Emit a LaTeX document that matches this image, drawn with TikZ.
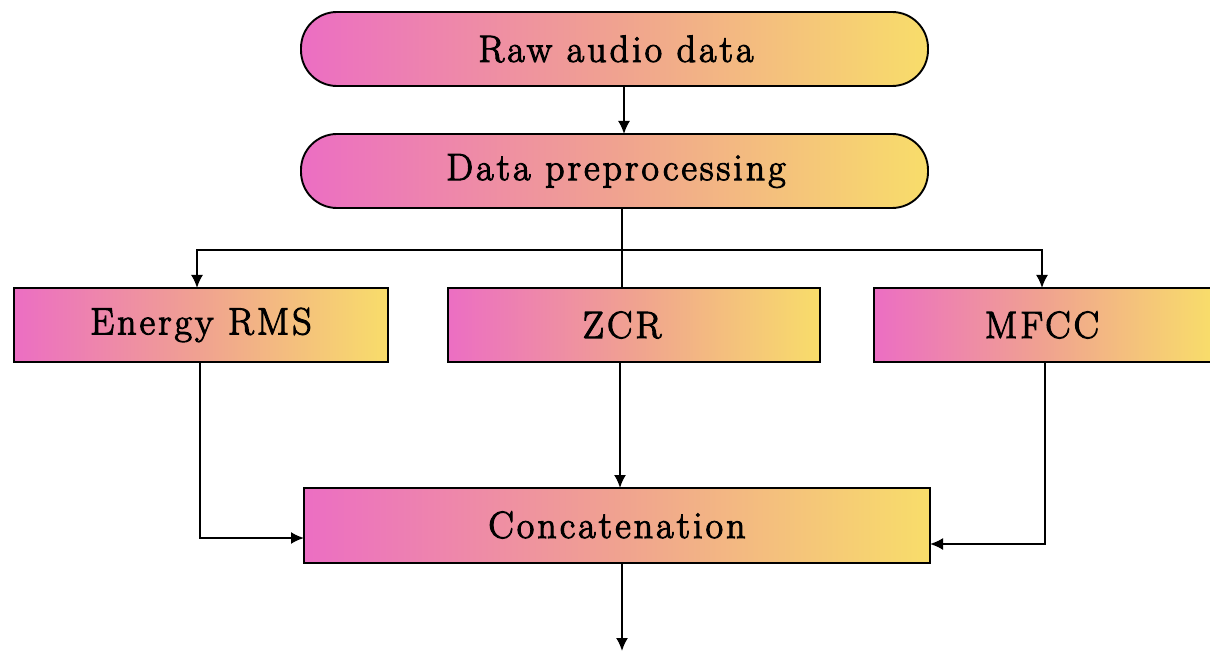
\documentclass[tikz,border=0pt]{standalone}
\usepackage{fontspec}
\setmainfont{Latin Modern Roman}[FakeBold=2.8,LetterSpace=8]
\usetikzlibrary{arrows.meta,calc}
\definecolor{gpink}{HTML}{EC6EC3}
\definecolor{gmid}{HTML}{F0A290}
\definecolor{gyellow}{HTML}{F8DD6A}
\tikzset{
  gradfill/.style={left color=gpink,right color=gyellow,middle color=gmid,
    draw=black,line width=1.9pt},
  stadium/.style={gradfill,rounded corners=36pt},
  flowbox/.style={gradfill},
  label text/.style={font=\fontsize{38}{44}\selectfont},
  link/.style={line width=1.9pt,draw=black},
  arr/.style={link,-{Latex[length=13pt,width=12pt]}},
}
\begin{document}
\begin{tikzpicture}[x=1pt,y=-1pt]
  \useasboundingbox (0,0) rectangle (1210,652);
  % boxes
  \draw[stadium] (301,12) rectangle (928,86);
  \node[label text] (raw) at (616,49) {Raw audio data};
  \coordinate (rawB) at (624,86);
  \draw[stadium] (301,134) rectangle (928,208);
  \node[label text] (pre) at (616,171) {Data preprocessing};
  \coordinate (preT) at (624,134);
  \coordinate (preB) at (622,208);

  \draw[flowbox] (14,288) rectangle (388,362);
  \node[label text] (rms) at (201,325) {Energy RMS};
  \draw[flowbox] (448,288) rectangle (820,362);
  \node[label text] (zcr) at (622,325) {ZCR};
  \draw[flowbox] (874,288) rectangle (1212,362);
  \node[label text] (mfcc) at (1042,325) {MFCC};

  \draw[flowbox] (304,488) rectangle (930,563);
  \node[label text] (cat) at (617,525) {Concatenation};

  % connector anchors
  \coordinate (split) at (622,250);
  \coordinate (rmsT) at (197,288);
  \coordinate (mfccT) at (1042,288);
  \coordinate (zcrT) at (622,288);
  \coordinate (rmsB) at (200,362);
  \coordinate (zcrB) at (620,362);
  \coordinate (mfccB) at (1045,362);
  \coordinate (catL) at (304,538);
  \coordinate (catR) at (930,544);
  \coordinate (catT) at (620,488);
  \coordinate (catB) at (622,563);
  \coordinate (out) at (622,651);

  % connectors
  \draw[arr] (rawB) -- (preT);
  \draw[link] (preB) -- (zcrT);
  \draw[arr] (split) -| (rmsT);
  \draw[arr] (split) -| (mfccT);
  \draw[arr] (rmsB) |- (catL);
  \draw[arr] (zcrB) -- (catT);
  \draw[arr] (mfccB) |- (catR);
  \draw[arr] (catB) -- (out);
\end{tikzpicture}
\end{document}
